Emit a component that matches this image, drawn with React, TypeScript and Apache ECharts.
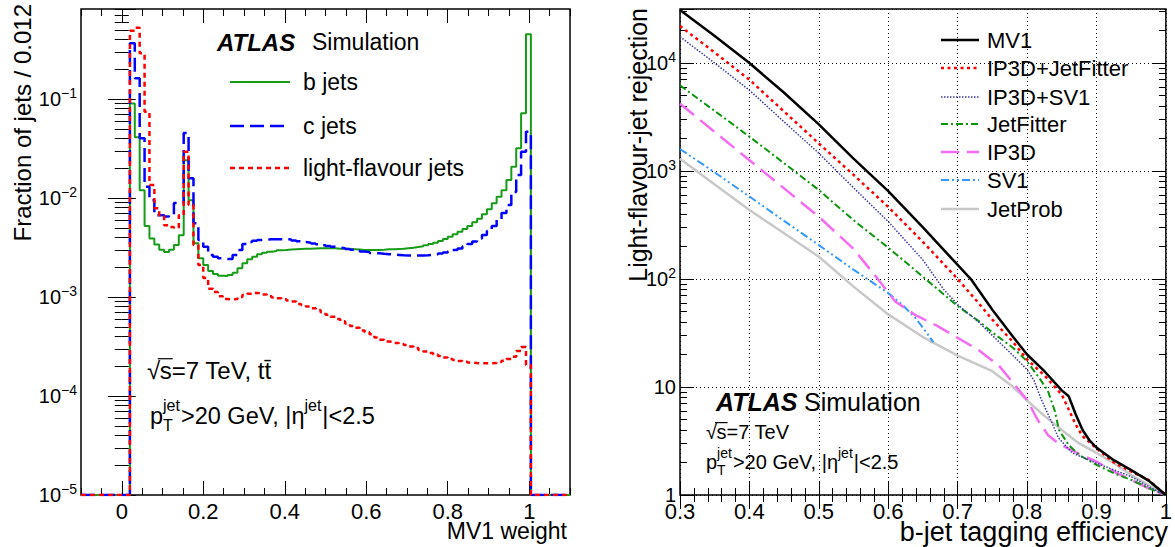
import React, { useEffect, useRef } from "react";
import * as echarts from "echarts";

const FONT = "Liberation Sans";

// ---------------- Left panel: MV1 weight distributions ----------------
const MV1_BIN_START = 0.02;
const MV1_BIN_WIDTH = 0.012;
const LEFT_Y_MIN = 1e-5;
const LEFT_Y_MAX = 0.811;
const LEFT_X_TICKS = [0, 0.2, 0.4, 0.6, 0.8, 1];

const bJets = [
  0.090, 0.041, 0.0120, 0.0052, 0.0039, 0.0034, 0.0030, 0.00285, 0.0030, 0.00335,
  0.0042, 0.024, 0.0095, 0.0035, 0.00246, 0.0021, 0.00183, 0.00171, 0.00164, 0.00163,
  0.00167, 0.00176, 0.00195, 0.00219, 0.0024, 0.00255, 0.0027, 0.0028, 0.00287, 0.00291,
  0.00296, 0.00298, 0.00301, 0.00303, 0.00305, 0.00307, 0.00308, 0.00309, 0.0031, 0.00311,
  0.00311, 0.0031, 0.00308, 0.00307, 0.00305, 0.00303, 0.00301, 0.00299, 0.00298, 0.00298,
  0.00298, 0.003, 0.00303, 0.00303, 0.00305, 0.00307, 0.00311, 0.00315, 0.0032, 0.00325,
  0.00333, 0.00343, 0.00354, 0.00368, 0.00385, 0.00406, 0.0043, 0.00457, 0.00486, 0.00522,
  0.00568, 0.00618, 0.00685, 0.00769, 0.00884, 0.0103, 0.0120, 0.0152, 0.0207, 0.0318,
  0.0717, 0.45,
];
const cJets = [
  0.365, 0.162, 0.0401, 0.0130, 0.0095, 0.0067, 0.0067, 0.0065, 0.0067, 0.0089,
  0.0089, 0.0453, 0.0158, 0.00555, 0.00377, 0.00322, 0.00266, 0.00255, 0.00246, 0.00242,
  0.00242, 0.00266, 0.00298, 0.00343, 0.00359, 0.0037, 0.00377, 0.00381, 0.00383, 0.00384,
  0.00384, 0.00383, 0.00381, 0.00372, 0.00365, 0.00359, 0.00354, 0.00347, 0.00341, 0.00334,
  0.00327, 0.00321, 0.00316, 0.00311, 0.00305, 0.003, 0.00294, 0.00288, 0.00284, 0.00278,
  0.00276, 0.00273, 0.00271, 0.00268, 0.00266, 0.00264, 0.00263, 0.00262, 0.00262, 0.00263,
  0.00264, 0.00266, 0.0027, 0.00275, 0.00282, 0.00288, 0.00298, 0.00309, 0.00324, 0.00343,
  0.00364, 0.0039, 0.00423, 0.00464, 0.00522, 0.006, 0.00706, 0.0085, 0.0115, 0.0171,
  0.0294, 0.0467,
];
const lightJets = [
  0.49, 0.525, 0.289, 0.0744, 0.0135, 0.0079, 0.0065, 0.0053, 0.0051, 0.0050,
  0.0067, 0.0294, 0.0085, 0.00335, 0.0021, 0.00156, 0.00121, 0.00112, 0.00102, 0.000954,
  0.000943, 0.000954, 0.001, 0.00105, 0.00108, 0.0011, 0.00109, 0.00106, 0.00102, 0.00099,
  0.00097, 0.00095, 0.00092, 0.0009, 0.00085, 0.00083, 0.0008, 0.00077, 0.00074, 0.0007,
  0.00066, 0.00063, 0.0006, 0.00057, 0.00054, 0.00051, 0.00049, 0.00046, 0.00044, 0.00042,
  0.00039, 0.00037, 0.000355, 0.00035, 0.000343, 0.000335, 0.000327, 0.000316, 0.000305, 0.000291,
  0.000282, 0.000272, 0.000263, 0.000254, 0.000245, 0.000236, 0.000231, 0.000226, 0.000222, 0.000218,
  0.000215, 0.000214, 0.000214, 0.000214, 0.000215, 0.00022, 0.000227, 0.000236, 0.000249, 0.000285,
  0.000313, 0.000206,
];

// ---------------- Right panel: light-jet rejection vs b-tag efficiency ----------------
const RIGHT_Y_MIN = 1;
const RIGHT_Y_MAX = 31623;

const effMV1 = [0.30, 0.35, 0.40, 0.45, 0.50, 0.55, 0.60, 0.65, 0.70, 0.72, 0.75, 0.78, 0.80, 0.825, 0.85, 0.86, 0.87, 0.88, 0.89, 0.90, 0.925, 0.95, 0.975, 1.0];
const rejMV1 = [31000, 17800, 10000, 5300, 2700, 1300, 650, 300, 135, 98, 52, 29, 20, 14, 9.3, 8.2, 5.6, 4.0, 3.2, 2.75, 2.1, 1.7, 1.36, 1.0];

const effIP3DJF = [0.30, 0.35, 0.40, 0.45, 0.50, 0.55, 0.60, 0.65, 0.70, 0.73, 0.75, 0.78, 0.80, 0.825, 0.85, 0.86, 0.87, 0.88, 0.90, 0.925, 0.95, 0.975, 1.0];
const rejIP3DJF = [22000, 12500, 7000, 3550, 1800, 920, 465, 220, 100, 60, 42, 26, 18, 12.8, 8.5, 6.2, 4.5, 3.5, 2.7, 2.0, 1.65, 1.38, 1.0];

const effIP3DSV1 = [0.30, 0.35, 0.40, 0.45, 0.50, 0.55, 0.60, 0.65, 0.68, 0.70, 0.73, 0.75, 0.78, 0.80, 0.81, 0.82, 0.835, 0.845, 0.865, 0.90, 0.95, 0.98, 1.0];
const rejIP3DSV1 = [17500, 10000, 5600, 2850, 1460, 700, 340, 150, 80, 58, 40, 30, 19.5, 14.5, 11.5, 7.8, 4.8, 3.4, 2.45, 1.97, 1.48, 1.15, 1.0];

const effJetFitter = [0.30, 0.35, 0.40, 0.45, 0.50, 0.55, 0.60, 0.65, 0.68, 0.70, 0.73, 0.75, 0.78, 0.80, 0.82, 0.83, 0.84, 0.846, 0.86, 0.875, 0.90, 0.925, 0.95, 0.98, 1.0];
const rejJetFitter = [6200, 3600, 2080, 1180, 667, 350, 195, 105, 72, 56, 41, 32, 23, 17.3, 11.5, 9.2, 6.0, 4.0, 2.9, 2.35, 1.9, 1.59, 1.38, 1.12, 1.0];

const effIP3D = [0.30, 0.35, 0.40, 0.45, 0.50, 0.55, 0.585, 0.61, 0.64, 0.67, 0.70, 0.73, 0.76, 0.78, 0.80, 0.815, 0.83, 0.845, 0.875, 0.90, 0.925, 0.95, 0.975, 1.0];
const rejIP3D = [4200, 2300, 1260, 690, 377, 190, 100, 62, 46, 37, 28.5, 22, 15.6, 10.9, 7.6, 5.0, 3.6, 3.0, 2.4, 2.04, 1.65, 1.38, 1.15, 1.0];

const effSV1 = [0.30, 0.35, 0.40, 0.45, 0.50, 0.55, 0.60, 0.62, 0.64, 0.655, 0.665];
const rejSV1 = [1600, 970, 580, 345, 206, 122, 74, 58, 43, 32, 26];

const effJetProb = [0.30, 0.35, 0.40, 0.45, 0.50, 0.55, 0.60, 0.65, 0.70, 0.75, 0.78, 0.80, 0.825, 0.85, 0.875, 0.90, 0.925, 0.95, 0.975, 1.0];
const rejJetProb = [1300, 750, 435, 265, 161, 85, 47, 29, 19.5, 14, 10, 7.5, 5.4, 4.0, 3.0, 2.45, 1.97, 1.53, 1.24, 1.0];

// ---------------- styles ----------------
const LEFT_SERIES = [
  { name: "b jets", values: bJets, color: "#169c16", width: 2, dash: "solid" as any },
  { name: "c jets", values: cJets, color: "#0000ff", width: 2.5, dash: [14, 6] as any },
  { name: "light-flavour jets", values: lightJets, color: "#ff0000", width: 2.5, dash: [5, 4] as any },
];

const RIGHT_SERIES = [
  { name: "MV1", eff: effMV1, rej: rejMV1, color: "#000000", width: 2.5, dash: "solid" as any },
  { name: "IP3D+JetFitter", eff: effIP3DJF, rej: rejIP3DJF, color: "#ff0000", width: 2.5, dash: [3, 3.5] as any },
  { name: "IP3D+SV1", eff: effIP3DSV1, rej: rejIP3DSV1, color: "#3a3aa8", width: 1.5, dash: [1.5, 1.5] as any },
  { name: "JetFitter", eff: effJetFitter, rej: rejJetFitter, color: "#0a960a", width: 2, dash: [7, 3, 2, 3] as any },
  { name: "IP3D", eff: effIP3D, rej: rejIP3D, color: "#f46cf4", width: 2.5, dash: [18, 8] as any },
  { name: "SV1", eff: effSV1, rej: rejSV1, color: "#3399ff", width: 2, dash: [8, 3, 2, 3, 2, 3] as any },
  { name: "JetProb", eff: effJetProb, rej: rejJetProb, color: "#c8c8c8", width: 2.5, dash: "solid" as any },
];

const LEFT_GRID = { left: 81, top: 9, width: 489, height: 486 };
const RIGHT_GRID = { left: 680, top: 9, width: 489, height: 486 };

function measure(text: string, size: number, weight = "normal", style = "normal") {
  const c = document.createElement("canvas").getContext("2d")!;
  c.font = `${style} ${weight} ${size}px "${FONT}"`;
  return c.measureText(text).width;
}

function txt(text: string, x: number, y: number, size: number, extra: any = {}) {
  return {
    type: "text",
    x,
    y,
    z: 100,
    style: {
      text,
      fontSize: size,
      fontFamily: FONT,
      fill: "#000",
      align: "left",
      verticalAlign: "middle",
      ...extra,
    },
  };
}

// ROOT-like "#sqrt{s}" followed by some text
function sqrtLabel(x: number, y: number, size: number, rest: string) {
  const els: any[] = [];
  const wr = measure("\u221A", size);
  const ws = measure("s", size);
  els.push(txt("\u221A", x, y, size));
  const sx = x + wr - size * 0.02;
  els.push(txt("s", sx, y, size));
  els.push({
    type: "line",
    z: 100,
    shape: { x1: x + wr - size * 0.1, y1: y - size * 0.47, x2: sx + ws + 1, y2: y - size * 0.47 },
    style: { stroke: "#000", lineWidth: 1.2 },
  });
  els.push(txt(rest, sx + ws, y, size));
  return els;
}

function ptLabel(x: number, y: number, size: number) {
  const sub = Math.round(size * 0.68);
  const els: any[] = [];
  let cx = x;
  els.push(txt("p", cx, y, size));
  cx += measure("p", size);
  els.push(txt("jet", cx, y - size * 0.45, sub));
  els.push(txt("T", cx, y + size * 0.42, sub));
  cx += Math.max(measure("jet", sub), measure("T", sub)) + 1;
  const mid = ">20 GeV, |\u03B7";
  els.push(txt(mid, cx, y, size));
  cx += measure(mid, size);
  els.push(txt("jet", cx, y - size * 0.45, sub));
  cx += measure("jet", sub) + 1;
  els.push(txt("|<2.5", cx, y, size));
  return els;
}

function legendLine(x1: number, x2: number, y: number, s: any) {
  return {
    type: "line",
    z: 100,
    shape: { x1, y1: y, x2, y2: y },
    style: {
      stroke: s.color,
      lineWidth: s.width,
      lineDash: s.dash === "solid" ? null : s.dash,
    },
  };
}

function logMinor(minExp: number, maxLog: number) {
  const out: number[] = [];
  for (let n = minExp; n < Math.ceil(maxLog); n++) {
    for (let k = 2; k <= 9; k++) {
      const v = n + Math.log10(k);
      if (v < maxLog) out.push(v);
    }
  }
  return out;
}

function range(a: number, b: number, step: number) {
  const out: number[] = [];
  for (let v = a; v <= b + 1e-9; v += step) out.push(Math.round(v * 1000) / 1000);
  return out;
}

const tickStyle = { color: "#000", width: 1 };

function tickAxis(gridIndex: number, position: string, min: number, max: number, values: number[], length: number) {
  return {
    type: "value",
    gridIndex,
    position,
    min,
    max,
    axisLine: { show: false },
    axisLabel: { show: false },
    splitLine: { show: false },
    axisTick: { show: true, inside: true, length, lineStyle: tickStyle, customValues: values },
  };
}

const supRich = {
  b: { fontSize: 20, fontFamily: FONT, color: "#000", lineHeight: 26 },
  s: { fontSize: 14, fontFamily: FONT, color: "#000", verticalAlign: "top", lineHeight: 14 },
};

function logLabel(v: number) {
  const l = Math.log10(v);
  const e = Math.round(l);
  if (Math.abs(l - e) > 1e-6) return "";
  if (e === 0) return "1";
  if (e === 1) return "10";
  return `{b|10}{s|${e < 0 ? "\u2212" : ""}${Math.abs(e)}}`;
}

function histPoints(values: number[]) {
  const pts: number[][] = [[-0.1, LEFT_Y_MIN]];
  values.forEach((v, i) => pts.push([+(MV1_BIN_START + i * MV1_BIN_WIDTH).toFixed(4), v]));
  pts.push([+(MV1_BIN_START + values.length * MV1_BIN_WIDTH).toFixed(4), LEFT_Y_MIN]);
  pts.push([1.1, LEFT_Y_MIN]);
  return pts;
}

export default function App() {
  const ref = useRef<HTMLDivElement>(null);

  useEffect(() => {
    if (!ref.current) return;
    const chart = echarts.init(ref.current, null, { renderer: "svg" });

    const lMinLog = Math.log10(LEFT_Y_MIN);
    const lMaxLog = Math.log10(LEFT_Y_MAX);
    const rMinLog = Math.log10(RIGHT_Y_MIN);
    const rMaxLog = Math.log10(RIGHT_Y_MAX);

    const leftMinorX = range(-0.1, 1.1, 0.05);
    const leftMajorY = [-5, -4, -3, -2, -1];
    const rightMajorY = [0, 1, 2, 3, 4];

    const graphic: any[] = [];
    // Left panel texts
    graphic.push(txt("ATLAS", 217, 42, 24, { fontWeight: "bold", fontStyle: "italic" }));
    graphic.push(txt("Simulation", 312, 42, 23));
    const leftLegY = [82, 126, 168];
    LEFT_SERIES.forEach((s, i) => {
      graphic.push(legendLine(230, 290, leftLegY[i], s));
      graphic.push(txt(s.name, 303, leftLegY[i], 23));
    });
    graphic.push(...sqrtLabel(147, 370, 24, "=7 TeV, tt\u0304"));
    graphic.push(...ptLabel(150, 416, 23.5));
    // axis titles
    graphic.push(txt("MV1 weight", 567, 531, 23, { align: "right", lineHeight: 20 }));
    graphic.push({ ...txt("Fraction of jets / 0.012", 22, 4, 24, { align: "right", lineHeight: 20 }), rotation: Math.PI / 2 });

    // Right panel texts
    const rightLegY = [40, 68, 97, 124, 152, 180, 209];
    RIGHT_SERIES.forEach((s, i) => {
      graphic.push(legendLine(941, 979, rightLegY[i], s));
      graphic.push(txt(s.name, 987, rightLegY[i], 22));
    });
    graphic.push(txt("ATLAS", 716, 402, 25, { fontWeight: "bold", fontStyle: "italic" }));
    graphic.push(txt("Simulation", 804, 402, 25));
    graphic.push(...sqrtLabel(706, 432, 20, "=7 TeV"));
    graphic.push(...ptLabel(706, 462, 20));
    graphic.push(txt("b-jet tagging efficiency", 1168, 532, 27, { align: "right", lineHeight: 20 }));
    graphic.push({ ...txt("Light-flavour-jet rejection", 638, 8, 25, { align: "right", lineHeight: 20 }), rotation: Math.PI / 2 });

    const xLabel = { fontSize: 22, fontFamily: FONT, color: "#000", margin: 8, lineHeight: 16 };

    const option: any = {
      animation: false,
      backgroundColor: "#ffffff",
      textStyle: { fontFamily: FONT },
      grid: [
        { ...LEFT_GRID, show: true, borderColor: "#000", borderWidth: 1.5, backgroundColor: "transparent" },
        { ...RIGHT_GRID, show: true, borderColor: "#000", borderWidth: 1.5, backgroundColor: "transparent" },
      ],
      xAxis: [
        // 0: left data axis
        {
          type: "value",
          gridIndex: 0,
          position: "bottom",
          min: -0.1,
          max: 1.1,
          axisLine: { show: false },
          splitLine: { show: false },
          axisTick: { show: true, inside: true, length: 14, lineStyle: tickStyle, customValues: LEFT_X_TICKS },
          axisLabel: {
            ...xLabel,
            customValues: LEFT_X_TICKS,
            formatter: (v: number) => (Math.abs(v) < 1e-9 ? "0" : Math.abs(v - 1) < 1e-9 ? "1" : String(+v.toFixed(1))),
          },
        },
        tickAxis(0, "bottom", -0.1, 1.1, leftMinorX, 7),
        tickAxis(0, "top", -0.1, 1.1, LEFT_X_TICKS, 14),
        tickAxis(0, "top", -0.1, 1.1, leftMinorX, 7),
        // 4: right data axis
        {
          type: "value",
          gridIndex: 1,
          position: "bottom",
          min: 0.3,
          max: 1.0,
          interval: 0.1,
          axisLine: { show: false },
          splitLine: { show: true, lineStyle: { color: "#000", width: 1, type: [1, 3] } },
          axisTick: { show: true, inside: true, length: 14, lineStyle: tickStyle },
          minorTick: { show: true, splitNumber: 5, length: 7, lineStyle: tickStyle },
          axisLabel: {
            ...xLabel,
            formatter: (v: number) => (Math.abs(v - 1) < 1e-9 ? "1" : v.toFixed(1)),
          },
        },
        {
          type: "value",
          gridIndex: 1,
          position: "top",
          min: 0.3,
          max: 1.0,
          interval: 0.1,
          axisLine: { show: false },
          splitLine: { show: false },
          axisLabel: { show: false },
          axisTick: { show: true, inside: true, length: 14, lineStyle: tickStyle },
          minorTick: { show: true, splitNumber: 5, length: 7, lineStyle: tickStyle },
        },
      ],
      yAxis: [
        // 0: left data axis (log)
        {
          type: "log",
          logBase: 10,
          gridIndex: 0,
          position: "left",
          min: LEFT_Y_MIN,
          max: LEFT_Y_MAX,
          axisLine: { show: false },
          splitLine: { show: false },
          axisTick: { show: true, inside: true, length: 14, lineStyle: tickStyle },
          axisLabel: { fontSize: 20, fontFamily: FONT, color: "#000", margin: 4, lineHeight: 16, formatter: logLabel, rich: supRich },
        },
        tickAxis(0, "left", lMinLog, lMaxLog, logMinor(-5, lMaxLog), 7),
        tickAxis(0, "right", lMinLog, lMaxLog, leftMajorY, 14),
        tickAxis(0, "right", lMinLog, lMaxLog, logMinor(-5, lMaxLog), 7),
        // 4: right data axis (log)
        {
          type: "log",
          logBase: 10,
          gridIndex: 1,
          position: "left",
          min: RIGHT_Y_MIN,
          max: RIGHT_Y_MAX,
          axisLine: { show: false },
          splitLine: { show: true, lineStyle: { color: "#000", width: 1, type: [1, 3] } },
          axisTick: { show: true, inside: true, length: 14, lineStyle: tickStyle },
          axisLabel: { fontSize: 20, fontFamily: FONT, color: "#000", margin: 4, lineHeight: 16, formatter: logLabel, rich: supRich },
        },
        tickAxis(1, "left", rMinLog, rMaxLog, logMinor(0, rMaxLog), 7),
        tickAxis(1, "right", rMinLog, rMaxLog, rightMajorY, 14),
        tickAxis(1, "right", rMinLog, rMaxLog, logMinor(0, rMaxLog), 7),
      ],
      series: [
        ...LEFT_SERIES.map((s) => ({
          name: s.name,
          type: "line",
          xAxisIndex: 0,
          yAxisIndex: 0,
          step: "end",
          symbol: "none",
          data: histPoints(s.values),
          lineStyle: { color: s.color, width: s.width, type: s.dash },
          itemStyle: { color: s.color },
          z: 5,
        })),
        ...RIGHT_SERIES.slice()
          .reverse()
          .map((s) => ({
            name: s.name,
            type: "line",
            xAxisIndex: 4,
            yAxisIndex: 4,
            symbol: "none",
            data: s.eff.map((e, i) => [e, s.rej[i]]),
            lineStyle: { color: s.color, width: s.width, type: s.dash },
            itemStyle: { color: s.color },
            z: 5,
          })),
      ],
      graphic,
    };

    chart.setOption(option);
    return () => chart.dispose();
  }, []);

  return (
    <div
      ref={ref}
      style={{ position: "fixed", left: 0, top: 0, width: 1175, height: 547, background: "#fff" }}
    />
  );
}
